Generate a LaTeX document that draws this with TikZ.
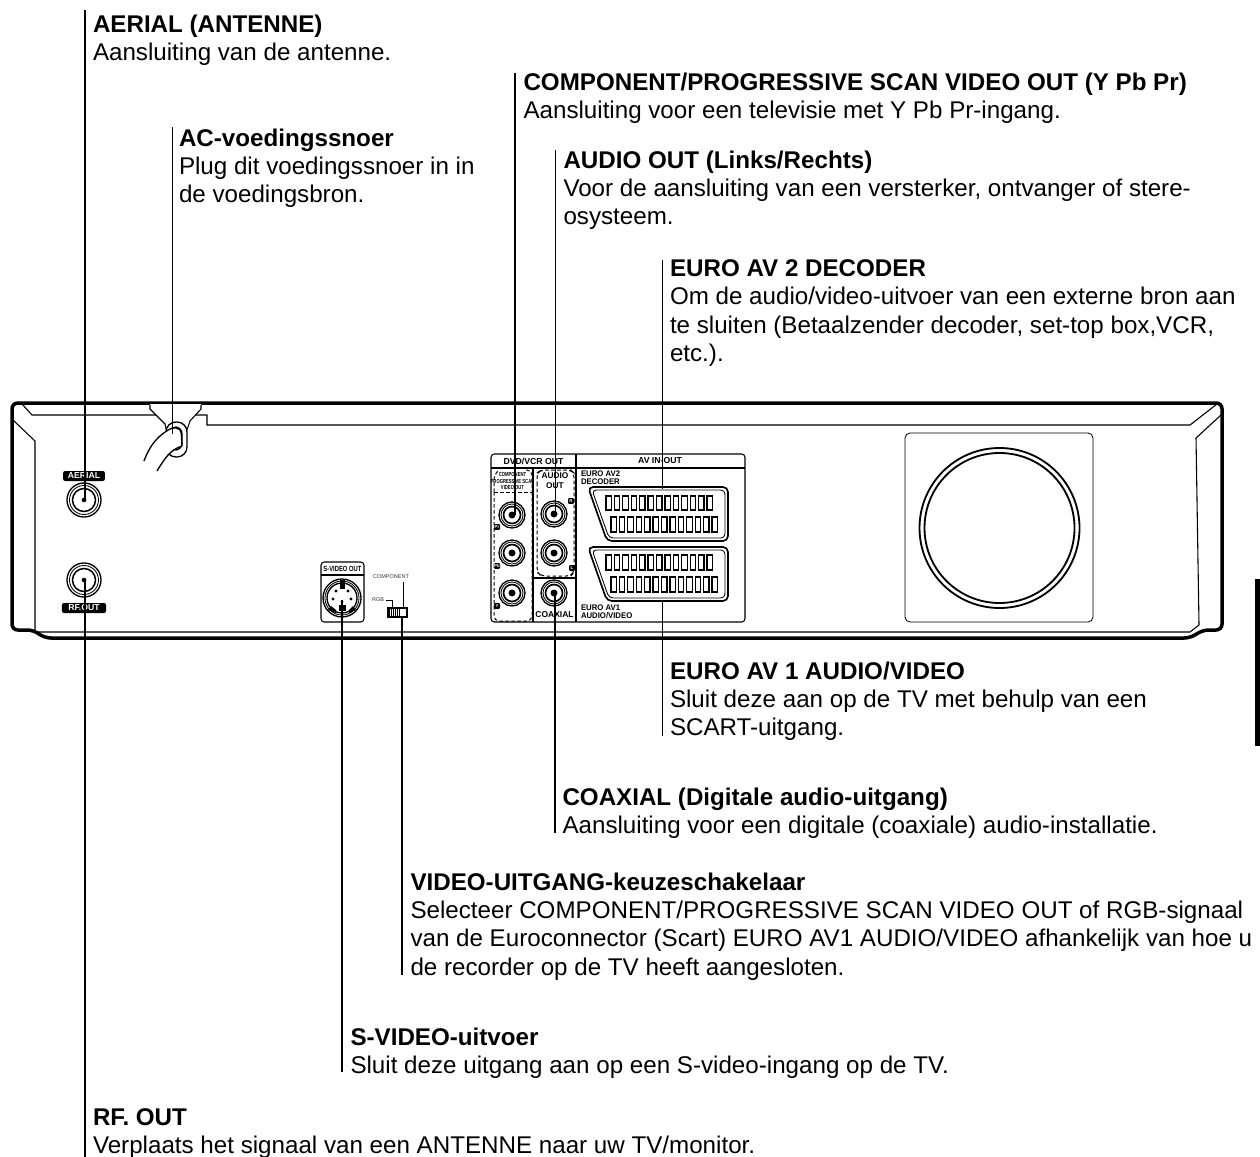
\documentclass[tikz,border=0pt]{standalone}
\usepackage{fontspec}
\setmainfont{Liberation Sans}
\begin{document}
\begin{tikzpicture}[x=0.6pt,y=-0.6pt,
  every node/.style={inner sep=0pt,outer sep=0pt},
  leader/.style={line width=0.65pt,black},
  outline/.style={line width=2.1pt,black,line join=round},
  thin line/.style={line width=0.65pt,black},
  hair/.style={line width=0.4pt,black},
  dashline/.style={line width=0.6pt,black,dash pattern=on 2.2pt off 1.4pt},
  block/.style={anchor=north west,align=left,font=\fontsize{14.5}{17}\selectfont},
  tag/.style={fill=black,text=white,rounded corners=1.2pt,font=\fontsize{5.2}{6}\selectfont\bfseries,minimum height=6pt,align=center},
  mini/.style={font=\fontsize{4.6}{5.2}\selectfont\bfseries,align=center},
  tiny tag/.style={fill=black,text=white,rounded corners=0.6pt,font=\fontsize{2.6}{3}\selectfont\bfseries,minimum width=3.6pt,minimum height=3.4pt},
  gray label/.style={font=\fontsize{3.3}{4}\selectfont,text=black!80}]
\useasboundingbox (0,0) rectangle (1260,1157);
\newcommand\jack[4]{% name x y outer radius
  \fill[white] (#2,#3) circle (#4);
  \draw[line width=0.8pt] (#2,#3) circle (#4);
  \draw[line width=0.5pt] (#2,#3) circle ({#4-2.5});
  \draw[line width=0.9pt] (#2,#3) circle ({#4-5.5});
  \node[circle,fill=black,minimum size=2.8pt] (#1) at (#2,#3) {};}
\newcommand\rcajack[3]{%
  \draw[line width=0.8pt] (#2,#3) circle (13);
  \draw[line width=0.5pt] (#2,#3) circle (11);
  \draw[line width=1pt] (#2,#3) circle (8.5);
  \node[circle,fill=black,minimum size=4.2pt] (#1) at (#2,#3) {};}
\newcommand\pins[3]{% x y-top y-bottom
  \foreach \i in {0,...,12} {\draw[line width=0.75pt] ({#1+\i*8.42},#2) rectangle ({#1+\i*8.42+5.4},#3);}}
\newcommand\scart[1]{%
  \begin{scope}[yshift=#1]
  \draw[line width=1pt,rounded corners=3pt] (588,487) -- (728,487) -- (728,541) -- (607,541) -- cycle;
  \draw[line width=0.5pt,rounded corners=2.5pt] (592,490) -- (725,490) -- (725,538) -- (609,538) -- cycle;
  \end{scope}}

% body
\draw[outline,rounded corners=3.5pt] (45,638) -- (33,630) -- (12,630) -- (12,403) -- (1222,403) -- (1222,630) -- (1203,630) -- (1190,638) -- cycle;
\draw[thin line] (22,404) -- (32,415) -- (207,415) -- (207,425) -- (1190,425) -- (1217,404);
\draw[thin line] (13,420) -- (35,441) -- (35,631);
\draw[thin line] (1221,415) -- (1196,438) -- (1199,625) -- (1190,632) -- (34,632);
% cable clip
\fill[white] (150,404) -- (150,409) -- (166,425) -- (187,425) -- (201,409) -- (201,404) -- cycle;
\draw[thin line] (150,405) -- (150,409) -- (165,424) -- (167,433);
\draw[thin line] (201,405) -- (201,409) -- (190,421) -- (187,430);
\draw[line width=0.8pt,rounded corners=6pt] (166,422) rectangle (187,457);
\draw[line width=0.8pt,rounded corners=4pt] (170,427) rectangle (182,450);
\fill[white] (144,461) .. controls (150,445) and (158,435) .. (172,428) -- (182,446) .. controls (170,450) and (165,458) .. (157,471) -- cycle;
\draw[line width=0.8pt] (144,461) .. controls (150,445) and (158,435) .. (172,428);
\draw[line width=0.8pt] (157,471) .. controls (165,458) and (170,450) .. (182,446);
\draw[line width=0.8pt,rounded corners=3pt] (172,428) -- (181,428) -- (182,446);

% left jacks
\node[tag,minimum width=25pt] (aeriallabel) at (84,476) {AERIAL};
\jack{aerialjack}{84}{500}{17}
\jack{rfjack}{84}{580}{17}
\node[tag,minimum width=26.5pt] (rflabel) at (84,608) {RF.OUT};

% s-video
\draw[thin line,rounded corners=2pt] (321,562) rectangle (364,622);
\draw[thin line] (321,575) -- (364,575);
\node[mini,font=\fontsize{4.5}{5}\selectfont\bfseries] (svlabel) at (342.5,569) {\scalebox{0.78}[1]{S-VIDEO OUT}};
\draw[line width=0.8pt] (342,598) circle (19);
\draw[line width=0.5pt] (342,598) circle (17);
\draw[line width=0.8pt] (342,598) circle (15);
\fill (339.5,580) rectangle (345,589);
\fill (339,605) rectangle (345.5,611);
\fill (331,606) -- (336,610) -- (336,613) -- (328,610) -- cycle;
\fill (353,606) -- (349,610) -- (349,613) -- (356,610) -- cycle;
\foreach \p in {(336,591),(348,591),(333,599),(351,599),(342,602)} \fill \p circle (1.6);
\coordinate (svcentre) at (342,600);

% switch
\node[gray label] (complabel) at (391,577) {COMPONENT};
\node[gray label] (rgblabel) at (378,600) {RGB};
\draw[hair] (403,582) -- (403,607);
\draw[hair] (386,600) -- (392,600) -- (392,607);
\draw[line width=0.7pt] (388,608) rectangle (407,617);
\foreach \i in {389.5,391.5,...,397.5} \draw[line width=0.9pt] (\i,608) -- (\i,617);
\draw[line width=0.7pt] (399.5,608) -- (399.5,617);
\coordinate (switchtop) at (402,617);

% AV panel
\draw[thin line,rounded corners=2pt] (491,454) rectangle (745,622);
\draw[thin line] (491,468) -- (745,468);
\draw[thin line] (576,454) -- (576,622);
\draw[thin line] (533,468) -- (533,622);
\draw[thin line] (533,578) -- (576,578);
\node[mini,font=\fontsize{5.2}{6}\selectfont\bfseries] (dvdvcr) at (533.5,461) {DVD/VCR OUT};
\node[mini,font=\fontsize{5.2}{6}\selectfont\bfseries] (avinout) at (660,461) {AV IN-OUT};
\node[font=\fontsize{3.5}{3.9}\selectfont\bfseries,align=center] (complbl) at (512.5,481) {\scalebox{0.72}[1]{COMPONENT}\\\scalebox{0.72}[1]{PROGRESSIVE SCAN}\\\scalebox{0.72}[1]{VIDEO OUT}};
\node[font=\fontsize{5}{6}\selectfont\bfseries,align=center] (audiolbl) at (555,481) {AUDIO\\OUT};
\node[font=\fontsize{5.1}{6}\selectfont\bfseries] (coaxlbl) at (554.5,615) {COAXIAL};
\draw[dashline] (494,492) -- (532,492);
\draw[dashline,rounded corners=3pt] (494,492) -- (494,475) -- (499,470) (526,470) -- (532,470) -- (532,492);
\draw[dashline,rounded corners=3pt] (494,492) -- (494,621) -- (532,621) -- (532,492);
\draw[dashline,rounded corners=3pt] (537,490) -- (537,473) -- (541,470) -- (571,470) -- (574,473) -- (574,572) -- (571,576) -- (541,576) -- (537,572) -- cycle;
\rcajack{pr}{512}{515}
\rcajack{pb}{512}{553}
\rcajack{yj}{512}{593}
\rcajack{audr}{554}{514}
\rcajack{audl}{554}{553}
\rcajack{coax}{554}{593}
\node[tiny tag] (tr) at (571,501) {R};
\node[tiny tag] (tl) at (572,568) {L};
\node[tiny tag] (tpr) at (497,527) {Pr};
\node[tiny tag] (tpb) at (497,566) {Pb};
\node[tiny tag] (ty) at (497,606) {Y};
\node[font=\fontsize{4.9}{4.9}\selectfont\bfseries,anchor=west,align=left] (av2lbl) at (581,478) {\scalebox{0.95}[1]{EURO AV2}\\\scalebox{0.95}[1]{DECODER}};
\node[font=\fontsize{4.9}{4.9}\selectfont\bfseries,anchor=west,align=left] (av1lbl) at (581,611.5) {\scalebox{0.95}[1]{EURO AV1}\\\scalebox{0.95}[1]{AUDIO/VIDEO}};
\scart{0pt}
\scart{-36pt}
\pins{606}{496}{510}
\pins{611}{517}{532}
\pins{606}{555}{570}
\pins{611}{577}{592}
\coordinate (av2top) at (662,489);
\coordinate (av1bottom) at (662,602);

% fan
\draw[thin line,line width=0.5pt,rounded corners=3pt] (905,433) rectangle (1093,622);
\draw[line width=1.1pt] (999.5,528) circle (80);
\draw[line width=1.1pt] (999.5,528) circle (75);

% side bar
\fill (1255,579) rectangle (1260,746);

% text blocks
\node[block] (t1) at (93,14.5) {\textbf{AERIAL (ANTENNE)}\\Aansluiting van de antenne.};
\node[block] (t2) at (523.5,72.5) {\textbf{COMPONENT/PROGRESSIVE SCAN VIDEO OUT (Y Pb Pr)}\\Aansluiting voor een televisie met Y Pb Pr-ingang.};
\node[block] (t3) at (179,128.5) {\textbf{AC-voedingssnoer}\\Plug dit voedingssnoer in in\\de voedingsbron.};
\node[block] (t4) at (563.5,150.5) {\textbf{AUDIO OUT (Links/Rechts)}\\Voor de aansluiting van een versterker, ontvanger of stere-\\osysteem.};
\node[block] (t5) at (670,259.5) {\textbf{EURO AV 2 DECODER}\\Om de audio/video-uitvoer van een externe bron aan\\te sluiten (Betaalzender decoder, set-top box,VCR,\\etc.).};
\node[block] (t6) at (670,661.5) {\textbf{EURO AV 1 AUDIO/VIDEO}\\Sluit deze aan op de TV met behulp van een\\SCART-uitgang.};
\node[block] (t7) at (562.5,787.5) {\textbf{COAXIAL (Digitale audio-uitgang)}\\Aansluiting voor een digitale (coaxiale) audio-installatie.};
\node[block] (t8) at (410.5,872.5) {\textbf{VIDEO-UITGANG-keuzeschakelaar}\\Selecteer COMPONENT/PROGRESSIVE SCAN VIDEO OUT of RGB-signaal\\van de Euroconnector (Scart) EURO AV1 AUDIO/VIDEO afhankelijk van hoe u\\de recorder op de TV heeft aangesloten.};
\node[block] (t9) at (350.5,1027.5) {\textbf{S-VIDEO-uitvoer}\\Sluit deze uitgang aan op een S-video-ingang op de TV.};
\node[block] (t10) at (93,1108.5) {\textbf{RF. OUT}\\Verplaats het signaal van een ANTENNE naar uw TV/monitor.};

% connectors
\coordinate (c1) at (85,10);
\coordinate (c2) at (172.5,127);
\coordinate (c3) at (172.5,434);
\coordinate (c4) at (515,73);
\coordinate (c5) at (515,515);
\coordinate (c6) at (555.5,150);
\coordinate (c7) at (555.5,514);
\coordinate (c8) at (662.5,260);
\coordinate (c9) at (662.5,736);
\coordinate (c10) at (555,833);
\coordinate (c11) at (402,975);
\coordinate (c12) at (342,1072);
\coordinate (c13) at (85,1157);
\draw[leader] (c1) -- (c1 |- aerialjack.center);
\draw[leader] (c2) -- (c3);
\draw[leader] (c4) -- (c5);
\draw[leader] (c6) -- (c7);
\draw[leader] (c8) -- (c8 |- av2top);
\draw[leader] (c9 |- av1bottom) -- (c9);
\draw[leader] (c10 |- coax.center) -- (c10);
\draw[leader] (switchtop) -- (c11);
\draw[leader] (svcentre) -- (c12);
\draw[leader] (c13 |- rfjack.center) -- (c13);
\end{tikzpicture}
\end{document}
